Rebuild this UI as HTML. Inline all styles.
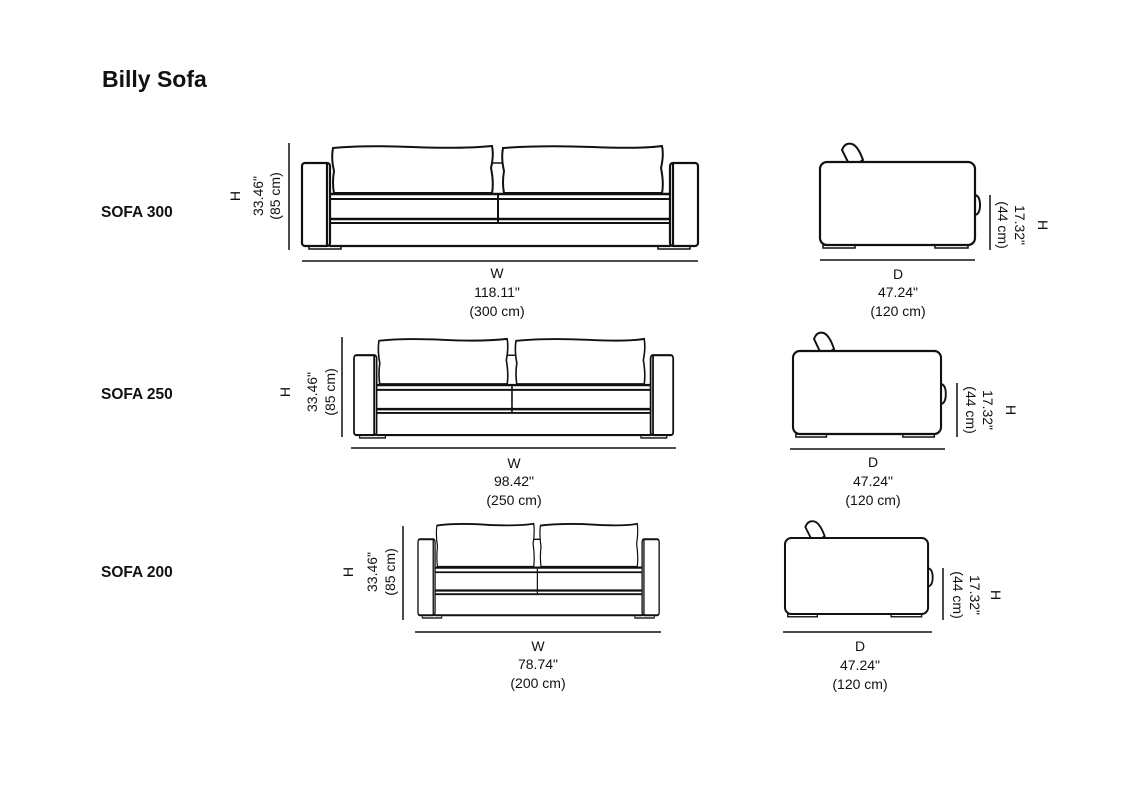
<!DOCTYPE html>
<html><head><meta charset="utf-8"><style>
html,body{margin:0;padding:0;background:#fff;}
svg{display:block;}
text{font-family:"Liberation Sans",sans-serif;fill:#111;}
.t{font-size:14px;text-anchor:middle;}
.b{font-weight:bold;}
</style></head><body>
<svg width="1136" height="800" viewBox="0 0 1136 800" xmlns="http://www.w3.org/2000/svg">
<defs>
<g id="front" fill="none" stroke="#111">
  <rect x="0" y="20" width="28" height="83" rx="3" stroke-width="2.2"/>
  <rect x="368" y="20" width="28" height="83" rx="3" stroke-width="2.2"/>
  <line x1="25" y1="20" x2="25" y2="103" stroke-width="2.2"/>
  <line x1="371" y1="20" x2="371" y2="103" stroke-width="2.2"/>
  <path d="M31,5 Q60,2 110,4 T190,3 Q192,12 189,25 Q192,40 190,50 L32,50 Q30,40 32,28 Q29,15 31,5 Z" stroke-width="2" fill="#fff"/>
  <path d="M201,5 Q240,2 290,4 T360,3 Q362,12 359,25 Q362,40 360,50 L202,50 Q200,40 202,28 Q199,15 201,5 Z" stroke-width="2" fill="#fff"/>
  <line x1="190" y1="20" x2="201" y2="20" stroke-width="1.5"/>
  <line x1="28" y1="51" x2="368" y2="51" stroke-width="2.5"/>
  <line x1="28" y1="56" x2="368" y2="56" stroke-width="2"/>
  <line x1="28" y1="76" x2="368" y2="76" stroke-width="2.5"/>
  <line x1="28" y1="80" x2="368" y2="80" stroke-width="2"/>
  <line x1="196" y1="50" x2="196" y2="80" stroke-width="2"/>
  <line x1="28" y1="103" x2="368" y2="103" stroke-width="2.2"/>
  <rect x="7" y="103" width="32" height="3" stroke-width="1.5"/>
  <rect x="356" y="103" width="32" height="3" stroke-width="1.5"/>
</g>
<g id="side" fill="none" stroke="#111">
  <path d="M22,-12 Q25,-20 32,-18 Q38,-16 43,-2 L40,0 L28,0 Z" stroke-width="2" fill="#fff"/>
  <rect x="0" y="0" width="155" height="83" rx="7" stroke-width="2.2" fill="#fff"/>
  <path d="M155,33 Q160,34 160,43 Q160,52 155,53" stroke-width="2"/>
  <rect x="3" y="83" width="32" height="3" stroke-width="1.5"/>
  <rect x="115" y="83" width="33" height="3" stroke-width="1.5"/>
</g>
</defs>

<text x="102" y="87" style="font-size:23px" class="b">Billy Sofa</text>
<text x="101" y="217" style="font-size:15.5px" class="b">SOFA 300</text>
<text x="101" y="399" style="font-size:15.5px" class="b">SOFA 250</text>
<text x="101" y="577" style="font-size:15.5px" class="b">SOFA 200</text>

<!-- SOFA 300 front -->
<use href="#front" transform="translate(302,143)"/>
<line x1="289" y1="143" x2="289" y2="250" stroke="#111" stroke-width="1.5"/>
<line x1="302" y1="261" x2="698" y2="261" stroke="#111" stroke-width="1.5"/>
<text class="t" x="497" y="278">W</text>
<text class="t" x="497" y="297">118.11"</text>
<text class="t" x="497" y="316">(300 cm)</text>
<g transform="translate(240,196) rotate(-90)"><text class="t" x="0" y="0">H</text></g>
<g transform="translate(263,196) rotate(-90)"><text class="t" x="0" y="0">33.46"</text></g>
<g transform="translate(280,196) rotate(-90)"><text class="t" x="0" y="0">(85 cm)</text></g>

<!-- SOFA 300 side -->
<use href="#side" transform="translate(820,162)"/>
<line x1="990" y1="195" x2="990" y2="250" stroke="#111" stroke-width="1.5"/>
<line x1="820" y1="260" x2="975" y2="260" stroke="#111" stroke-width="1.5"/>
<text class="t" x="898" y="279">D</text>
<text class="t" x="898" y="297">47.24"</text>
<text class="t" x="898" y="316">(120 cm)</text>
<g transform="translate(1038,225) rotate(90)"><text class="t" x="0" y="0">H</text></g>
<g transform="translate(1015,225) rotate(90)"><text class="t" x="0" y="0">17.32"</text></g>
<g transform="translate(998,225) rotate(90)"><text class="t" x="0" y="0">(44 cm)</text></g>

<!-- SOFA 250 front -->
<use href="#front" transform="translate(354,336) scale(0.806,0.962)"/>
<line x1="342" y1="337" x2="342" y2="437" stroke="#111" stroke-width="1.5"/>
<line x1="351" y1="448" x2="676" y2="448" stroke="#111" stroke-width="1.5"/>
<text class="t" x="514" y="468">W</text>
<text class="t" x="514" y="486">98.42"</text>
<text class="t" x="514" y="505">(250 cm)</text>
<g transform="translate(290,392) rotate(-90)"><text class="t" x="0" y="0">H</text></g>
<g transform="translate(317,392) rotate(-90)"><text class="t" x="0" y="0">33.46"</text></g>
<g transform="translate(335,392) rotate(-90)"><text class="t" x="0" y="0">(85 cm)</text></g>

<!-- SOFA 250 side -->
<use href="#side" transform="translate(793,351) scale(0.955,1)"/>
<line x1="957" y1="383" x2="957" y2="437" stroke="#111" stroke-width="1.5"/>
<line x1="790" y1="449" x2="945" y2="449" stroke="#111" stroke-width="1.5"/>
<text class="t" x="873" y="467">D</text>
<text class="t" x="873" y="486">47.24"</text>
<text class="t" x="873" y="505">(120 cm)</text>
<g transform="translate(1006,410) rotate(90)"><text class="t" x="0" y="0">H</text></g>
<g transform="translate(983,410) rotate(90)"><text class="t" x="0" y="0">17.32"</text></g>
<g transform="translate(966,410) rotate(90)"><text class="t" x="0" y="0">(44 cm)</text></g>

<!-- SOFA 200 front -->
<use href="#front" transform="translate(418,521) scale(0.609,0.915)"/>
<line x1="403" y1="526" x2="403" y2="620" stroke="#111" stroke-width="1.5"/>
<line x1="415" y1="632" x2="661" y2="632" stroke="#111" stroke-width="1.5"/>
<text class="t" x="538" y="651">W</text>
<text class="t" x="538" y="669">78.74"</text>
<text class="t" x="538" y="688">(200 cm)</text>
<g transform="translate(353,572) rotate(-90)"><text class="t" x="0" y="0">H</text></g>
<g transform="translate(377,572) rotate(-90)"><text class="t" x="0" y="0">33.46"</text></g>
<g transform="translate(395,572) rotate(-90)"><text class="t" x="0" y="0">(85 cm)</text></g>

<!-- SOFA 200 side -->
<use href="#side" transform="translate(785,538) scale(0.923,0.916)"/>
<line x1="943" y1="568" x2="943" y2="620" stroke="#111" stroke-width="1.5"/>
<line x1="783" y1="632" x2="932" y2="632" stroke="#111" stroke-width="1.5"/>
<text class="t" x="860" y="651">D</text>
<text class="t" x="860" y="670">47.24"</text>
<text class="t" x="860" y="689">(120 cm)</text>
<g transform="translate(991,595) rotate(90)"><text class="t" x="0" y="0">H</text></g>
<g transform="translate(970,595) rotate(90)"><text class="t" x="0" y="0">17.32"</text></g>
<g transform="translate(953,595) rotate(90)"><text class="t" x="0" y="0">(44 cm)</text></g>
</svg>
</body></html>
